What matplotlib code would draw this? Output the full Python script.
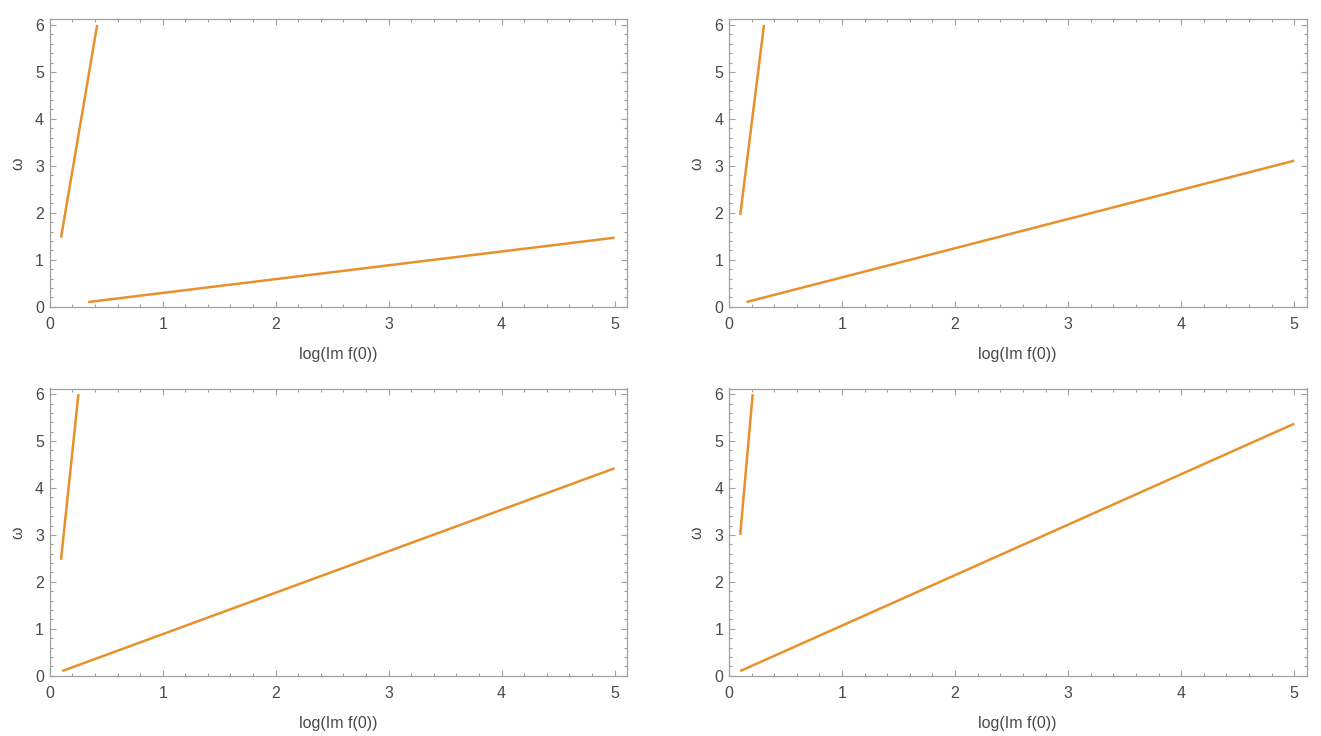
import matplotlib.pyplot as plt
from matplotlib.ticker import MultipleLocator

plt.rcParams['font.family'] = ['Liberation Sans', 'DejaVu Sans']

# each panel has a steep branch and a shallow branch (end points)
steep_x = [[0.10, 0.42], [0.10, 0.31], [0.10, 0.254], [0.10, 0.21]]
steep_y = [[1.47, 6.0], [1.95, 6.0], [2.47, 6.0], [3.0, 6.0]]
shallow_x = [[0.34, 5.0], [0.155, 5.0], [0.11, 5.0], [0.10, 5.0]]
shallow_y = [[0.1, 1.47], [0.1, 3.11], [0.1, 4.42], [0.1, 5.37]]

xlabel = 'log(Im f(0))'
ylabel = 'ω'

line_color = '#E8912C'
frame_color = '#A0A0A0'
text_color = '#4A4A4A'

W, H = 1321, 736
fig = plt.figure(figsize=(W / 100, H / 100), dpi=100)

# axes boxes in pixels: left, right, top, bottom
boxes = [(49.5, 627, 19.3, 307.3),
         (728.7, 1306.7, 19.3, 307.3),
         (49.5, 627, 388.5, 676.3),
         (728.7, 1306.7, 388.5, 676.3)]

for i, (l, r, t, b) in enumerate(boxes):
    ax = fig.add_axes([l / W, (H - b) / H, (r - l) / W, (b - t) / H])
    ax.plot(steep_x[i], steep_y[i], color=line_color, lw=1.8, solid_capstyle='butt')
    ax.plot(shallow_x[i], shallow_y[i], color=line_color, lw=1.8, solid_capstyle='butt')
    ax.set_xlim(-0.002, 5.11)
    ax.set_ylim(-0.012, 6.12)
    ax.xaxis.set_major_locator(MultipleLocator(1))
    ax.xaxis.set_minor_locator(MultipleLocator(0.2))
    ax.yaxis.set_major_locator(MultipleLocator(1))
    ax.yaxis.set_minor_locator(MultipleLocator(0.2))
    ax.tick_params(which='both', direction='in', top=True, right=True,
                   color=frame_color, width=0.8, labelsize=11.5, labelcolor=text_color)
    ax.tick_params(which='major', length=4, pad=4)
    ax.tick_params(which='minor', length=2.2)
    ax.tick_params(axis='x', which='major', pad=7)
    for s in ax.spines.values():
        s.set_color(frame_color)
        s.set_linewidth(0.9)
    ax.set_xlabel(xlabel, fontsize=11.5, color=text_color, labelpad=11)
    ax.set_ylabel(ylabel, fontsize=11.5, color=text_color, labelpad=7)

fig.savefig('out.png', dpi=100)
